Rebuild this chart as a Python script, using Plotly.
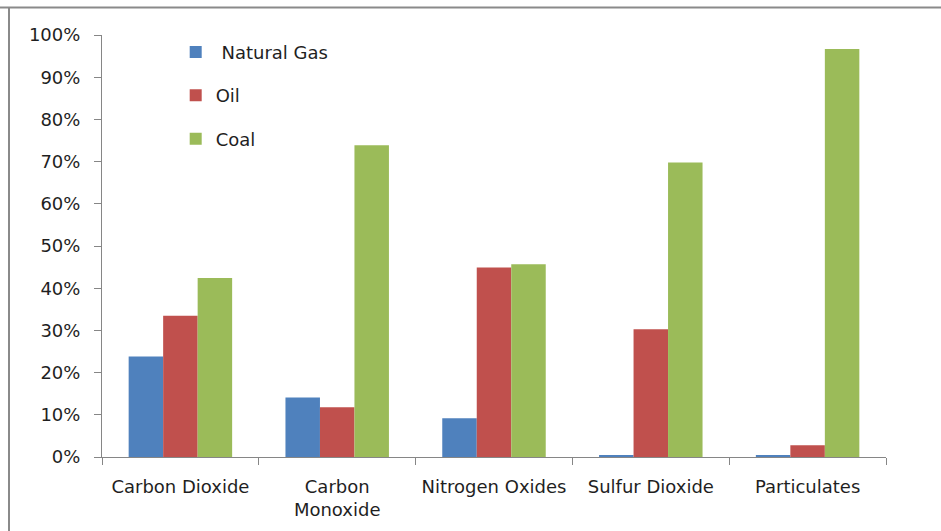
import plotly.graph_objects as go

# Share of emissions by fuel type
pollutants = ["Carbon Dioxide", "Carbon<br>Monoxide", "Nitrogen Oxides", "Sulfur Dioxide", "Particulates"]
natural_gas = [0.238, 0.141, 0.092, 0.003, 0.003]
oil = [0.335, 0.118, 0.449, 0.303, 0.028]
coal = [0.424, 0.739, 0.457, 0.698, 0.967]

series = [
    ("\u00a0Natural Gas", natural_gas, "#4F81BD"),
    ("Oil", oil, "#C0504D"),
    ("Coal", coal, "#9BBB59"),
]

FONT = "DejaVu Sans"
TEXT = "#1f1f1f"
AXIS = "#868686"

fig = go.Figure()
for i, (name, vals, color) in enumerate(series):
    fig.add_trace(go.Bar(
        x=pollutants, y=vals, name=name,
        marker=dict(color=color, line=dict(width=0)),
        legendgroup=f"g{i}",
    ))

fig.update_layout(
    width=941, height=531,
    margin=dict(l=102, r=55, t=35, b=74),
    paper_bgcolor="white", plot_bgcolor="white",
    barmode="group", bargap=0.34, bargroupgap=0,
    font=dict(family=FONT, size=18, color=TEXT),
    showlegend=True,
    legend=dict(
        x=0.094, y=1.003, xanchor="left", yanchor="top",
        bgcolor="rgba(0,0,0,0)", borderwidth=0,
        traceorder="grouped", tracegroupgap=17,
        font=dict(family=FONT, size=18, color=TEXT),
    ),
    xaxis=dict(
        showline=True, linecolor=AXIS, linewidth=1,
        ticks="outside", ticklen=7, tickcolor=AXIS, tickson="boundaries",
        showgrid=False, zeroline=False,
        ticklabelstandoff=13,
        tickfont=dict(family=FONT, size=18, color=TEXT),
    ),
    yaxis=dict(
        range=[0, 1], dtick=0.1, tickformat=".0%",
        showline=True, linecolor=AXIS, linewidth=1,
        ticks="outside", ticklen=7, tickcolor=AXIS,
        showgrid=False, zeroline=False,
        ticklabelstandoff=10,
        tickfont=dict(family=FONT, size=18, color=TEXT),
    ),
    shapes=[
        dict(type="line", xref="paper", yref="paper",
             x0=-102 / 784, x1=(941 - 102) / 784, y0=(457 - 7.5) / 422, y1=(457 - 7.5) / 422,
             line=dict(color="#8a8a8a", width=2)),
        dict(type="line", xref="paper", yref="paper",
             x0=-93 / 784, x1=-93 / 784, y0=(457 - 7.5) / 422, y1=-74 / 422,
             line=dict(color="#8a8a8a", width=2)),
    ],
)

fig.write_html("out.html")
